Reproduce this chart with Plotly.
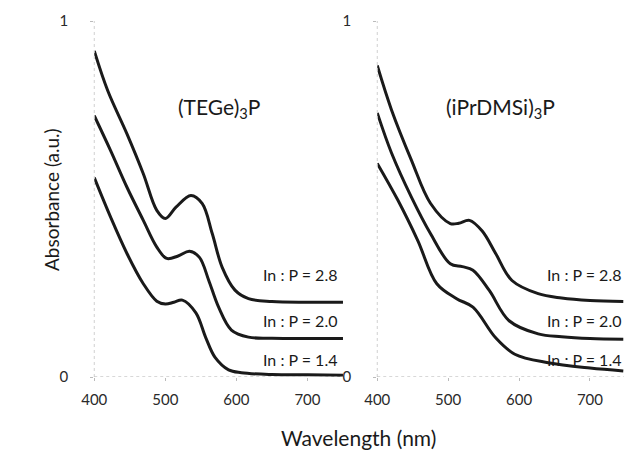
import plotly.graph_objects as go

# ---- data ----
wl_L28 = [400, 419, 446, 469, 488, 500, 515, 536, 552, 566, 580, 598, 617, 650, 700, 750]
ab_L28 = [0.916, 0.804, 0.683, 0.571, 0.468, 0.445, 0.477, 0.51, 0.487, 0.403, 0.308, 0.244, 0.22, 0.212, 0.21, 0.21]
wl_L20 = [400, 423, 446, 469, 488, 502, 518, 534, 548, 561, 575, 593, 617, 650, 700, 750]
ab_L20 = [0.734, 0.636, 0.533, 0.44, 0.365, 0.333, 0.34, 0.353, 0.336, 0.272, 0.196, 0.132, 0.112, 0.109, 0.108, 0.108]
wl_L14 = [400, 423, 446, 469, 488, 500, 512, 524, 543, 557, 570, 589, 607, 650, 700, 750]
ab_L14 = [0.56, 0.449, 0.347, 0.262, 0.213, 0.205, 0.21, 0.216, 0.18, 0.11, 0.055, 0.02, 0.012, 0.007, 0.006, 0.005]

wl_R28 = [400, 420, 448, 475, 503, 515, 530, 548, 567, 590, 627, 660, 700, 747]
ab_R28 = [0.875, 0.751, 0.61, 0.488, 0.431, 0.432, 0.44, 0.41, 0.347, 0.271, 0.234, 0.222, 0.215, 0.212]
wl_R20 = [400, 420, 448, 475, 503, 520, 535, 558, 586, 627, 660, 700, 747]
ab_R20 = [0.742, 0.63, 0.506, 0.403, 0.318, 0.31, 0.30, 0.243, 0.158, 0.121, 0.113, 0.108, 0.106]
wl_R14 = [400, 429, 457, 484, 512, 535, 567, 594, 641, 700, 747]
ab_R14 = [0.60, 0.497, 0.384, 0.262, 0.22, 0.196, 0.11, 0.064, 0.04, 0.025, 0.017]

panel_titles = ["(TEGe)<sub>3</sub>P", "(iPrDMSi)<sub>3</sub>P"]
ratio_labels = ["In : P = 2.8", "In : P = 2.0", "In : P = 1.4"]
label_levels = [0.287, 0.16, 0.048]
x_ticks = [400, 500, 600, 700]

FONT = "Lato"
INK = "#1a1a1a"

fig = go.Figure()
left = [(wl_L28, ab_L28), (wl_L20, ab_L20), (wl_L14, ab_L14)]
right = [(wl_R28, ab_R28), (wl_R20, ab_R20), (wl_R14, ab_R14)]
for xs, ys in left:
    fig.add_trace(go.Scatter(x=xs, y=ys, mode="lines", xaxis="x", yaxis="y",
                             line=dict(color=INK, width=3, shape="spline", smoothing=1.0),
                             showlegend=False, hoverinfo="skip"))
for xs, ys in right:
    fig.add_trace(go.Scatter(x=xs, y=ys, mode="lines", xaxis="x2", yaxis="y2",
                             line=dict(color=INK, width=3, shape="spline", smoothing=1.0),
                             showlegend=False, hoverinfo="skip"))

axis_common = dict(showgrid=False, zeroline=False, showline=False,
                   ticks="outside", ticklen=3, tickcolor="#bbbbbb",
                   tickfont=dict(family=FONT, size=15, color="#2a2a2a"))

fig.update_layout(
    width=624, height=451,
    margin=dict(l=0, r=0, t=21, b=74),
    paper_bgcolor="white", plot_bgcolor="white",
    xaxis=dict(domain=[83/624, 337/624], range=[400, 750], tickvals=x_ticks, anchor="y",
               ticklabelstandoff=6, **axis_common),
    xaxis2=dict(domain=[372/624, 1.0], range=[400, 748], tickvals=x_ticks, anchor="y2",
                ticklabelstandoff=6, **axis_common),
    yaxis=dict(domain=[0, 1], range=[0, 1], tickvals=[0, 1], anchor="x",
               ticklabelstandoff=19, **axis_common),
    yaxis2=dict(domain=[0, 1], range=[0, 1], tickvals=[0, 1], anchor="x2",
                ticklabelstandoff=19, **axis_common),
)

# dotted axis lines
for xr, yr in [("x", "y"), ("x2", "y2")]:
    fig.add_shape(type="line", xref=f"{xr} domain", yref=yr, x0=0, x1=0, y0=0, y1=1,
                  line=dict(color="#d0d0d0", width=1, dash="dot"))
    fig.add_shape(type="line", xref=f"{xr} domain", yref=yr, x0=0, x1=1, y0=0, y1=0,
                  line=dict(color="#b0b0b0", width=1, dash="dot"))

# panel titles
for xr, t in [("x", panel_titles[0]), ("x2", panel_titles[1])]:
    fig.add_annotation(text=t, xref=f"{xr} domain", yref="paper", x=0.5, y=0.80,
                       showarrow=False, font=dict(family=FONT, size=21, color=INK))

# ratio labels
for xr, xpos in [("x", 0.985), ("x2", 0.995)]:
    for lab, lev in zip(ratio_labels, label_levels):
        fig.add_annotation(text=lab, xref=f"{xr} domain", yref="y", x=xpos,
                           y=lev, xanchor="right", yanchor="middle", showarrow=False,
                           font=dict(family=FONT, size=16, color=INK))

# axis titles
fig.add_annotation(text="Absorbance (a.u.)", xref="paper", yref="paper", x=25/624, y=0.5,
                   textangle=-90, showarrow=False, font=dict(family=FONT, size=19, color=INK))
fig.add_annotation(text="Wavelength (nm)", xref="paper", yref="paper", x=353/624, y=-60/356,
                   showarrow=False, font=dict(family=FONT, size=21, color=INK), yanchor="middle")

fig.write_html("out.html")
